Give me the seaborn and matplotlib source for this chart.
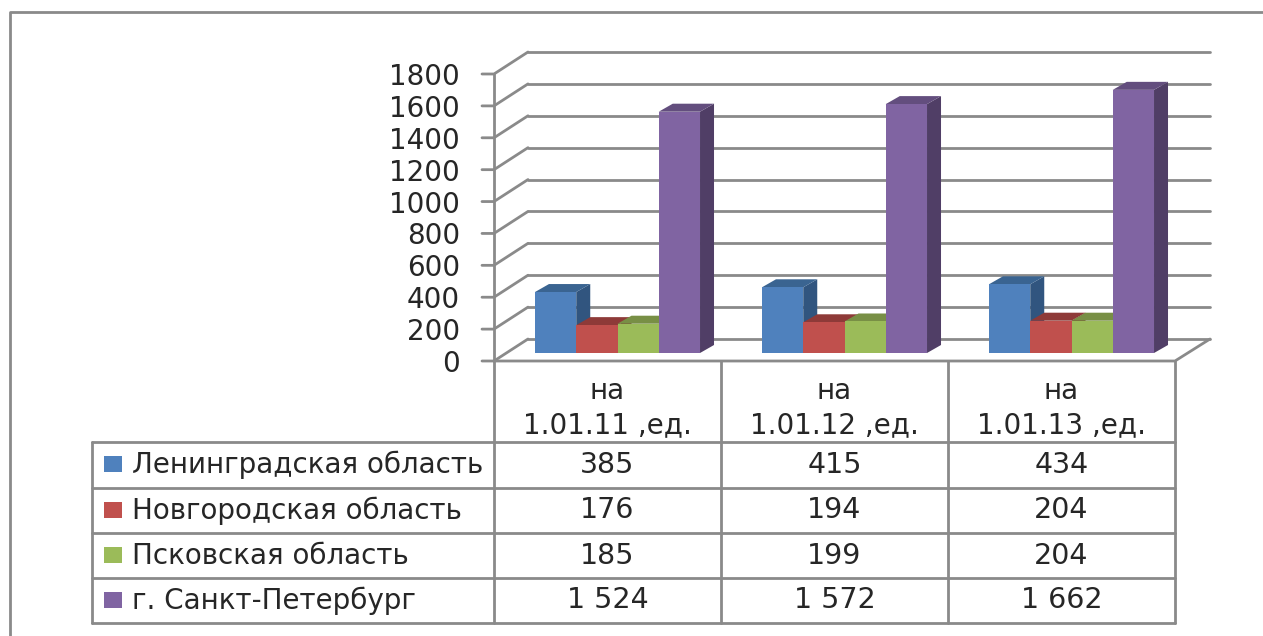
import pandas as pd
import seaborn as sns
import matplotlib.pyplot as plt
from matplotlib.patches import Polygon, Rectangle
from matplotlib.transforms import IdentityTransform

dates = ["на\n1.01.11 ,ед.", "на\n1.01.12 ,ед.", "на\n1.01.13 ,ед."]
regions = ["Ленинградская область", "Новгородская область", "Псковская область", "г. Санкт-Петербург"]
leningrad = [385, 415, 434]
novgorod = [176, 194, 204]
pskov = [185, 199, 204]
spb = [1524, 1572, 1662]
y_ticks = [0, 200, 400, 600, 800, 1000, 1200, 1400, 1600, 1800]

front_colors = ["#4F81BD", "#C0504D", "#9BBB59", "#8064A2"]
top_colors = ["#3A6491", "#8E3A38", "#788F45", "#634E7E"]
side_colors = ["#31557F", "#7A3230", "#66793A", "#503E66"]
line_color = "#8a8a8a"
text_color = "#262626"
lw = 2.0

W, H = 1263, 636
sns.set_theme(style="white")
plt.rcParams["font.family"] = ["DejaVu Sans"]

data = pd.DataFrame({
    "date": dates * 4,
    "region": [r for r in regions for _ in dates],
    "value": leningrad + novgorod + pskov + spb,
})

fig = plt.figure(figsize=(W / 100, H / 100), dpi=100)

# pixel space layer for the walls, table and labels
bg = fig.add_axes([0, 0, 1, 1], zorder=0)
bg.set_xlim(0, W)
bg.set_ylim(H, 0)
bg.axis("off")

ax = fig.add_axes([504 / W, (H - 353) / H, 681 / W, 285 / H], zorder=1)
ax.patch.set_visible(False)
sns.barplot(data=data, x="date", y="value", hue="region", hue_order=regions,
            palette=front_colors, saturation=1, width=0.727, gap=0,
            linewidth=0, legend=False, ax=ax)
ax.set_xlim(-0.5, 2.5)
ax.set_ylim(0, 1800)
ax.axis("off")

# depth of the bars and of the floor, in pixels
bar_dx, bar_dy = 14, 8
wall_dx, wall_dy = 34, 22
x_front, x_right = 494, 1175
y_zero, y_max = 361, 74


def wall_y(v):
    return y_zero - (y_zero - y_max) * v / y_ticks[-1]


for v in y_ticks:
    y_f = wall_y(v)
    y_b = y_f - wall_dy
    bg.plot([x_front - 12, x_front, x_front + wall_dx], [y_f, y_f, y_b], color=line_color, lw=lw)
    bg.plot([x_front + wall_dx, x_right + wall_dx + 1], [y_b, y_b], color=line_color, lw=lw)
    bg.text(x_front - 34, y_f + 3, str(v), ha="right", va="center", fontsize=20, color=text_color)

bg.plot([x_front, x_front], [y_max, 623], color=line_color, lw=lw)
bg.plot([x_front, x_right, x_right + wall_dx + 1], [y_zero, y_zero, y_zero - wall_dy], color=line_color, lw=lw)

# sides and tops of the bars
for i, container in enumerate(ax.containers):
    for bar in container:
        bar.set_zorder(i + 3)
        x0, x1 = bar.get_x(), bar.get_x() + bar.get_width()
        h = bar.get_height()
        x0p, y0p = ax.transData.transform((x0, 0))
        x1p, y1p = ax.transData.transform((x1, h))
        side = [(x1p, y0p), (x1p + bar_dx, y0p + bar_dy), (x1p + bar_dx, y1p + bar_dy), (x1p, y1p)]
        top = [(x0p, y1p), (x0p + bar_dx, y1p + bar_dy), (x1p + bar_dx, y1p + bar_dy), (x1p, y1p)]
        ax.add_patch(Polygon(side, color=side_colors[i], lw=0, transform=IdentityTransform(),
                             clip_on=False, zorder=i + 2.5))
        ax.add_patch(Polygon(top, color=top_colors[i], lw=0, transform=IdentityTransform(),
                             clip_on=False, zorder=i + 2.6))

# data table
row_lines = [442, 488, 533, 578, 623]
col_lines = [494, 721, 948, 1175]
x_table = 92
for y in row_lines:
    bg.plot([x_table, x_right], [y, y], color=line_color, lw=lw)
bg.plot([x_table, x_table], [row_lines[0], row_lines[-1]], color=line_color, lw=lw)
for x in col_lines[1:]:
    bg.plot([x, x], [y_zero, row_lines[-1]], color=line_color, lw=lw)

for j, label in enumerate(dates):
    xc = (col_lines[j] + col_lines[j + 1]) / 2
    line1, line2 = label.split("\n")
    bg.text(xc, 391, line1, ha="center", va="center", fontsize=20, color=text_color)
    bg.text(xc, 425, line2, ha="center", va="center", fontsize=20, color=text_color)

for i, (name, values) in enumerate(zip(regions, [leningrad, novgorod, pskov, spb])):
    yc = (row_lines[i] + row_lines[i + 1]) / 2 - 1
    bg.add_patch(Rectangle((104, yc - 8), 18, 16, color=front_colors[i], lw=0))
    bg.text(132, yc + 1, name, ha="left", va="center", fontsize=20, color=text_color)
    for j, v in enumerate(values):
        xc = (col_lines[j] + col_lines[j + 1]) / 2
        txt = f"{v:,}".replace(",", " ")
        bg.text(xc, yc + 1, txt, ha="center", va="center", fontsize=20.5, color=text_color)

# outer frame of the picture
bg.plot([10, 10, W], [H, 12, 12], color=line_color, lw=lw)

fig.savefig("out.png", dpi=100)
plt.close()
